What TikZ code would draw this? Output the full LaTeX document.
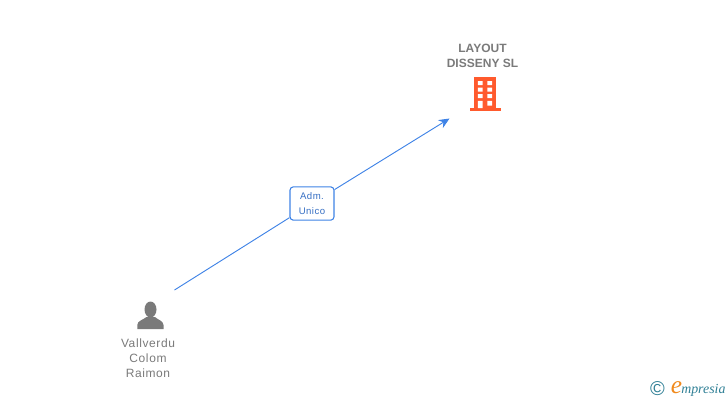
\documentclass[tikz,border=0pt]{standalone}
\usepackage{fontspec}
\setmainfont{Liberation Sans}
\newfontfamily\spacedfont[LetterSpace=5]{Liberation Sans}
\newfontfamily\logofont{Liberation Serif}
\usetikzlibrary{arrows.meta,positioning}
\definecolor{labelgrey}{HTML}{7A7A7A}
\definecolor{linkblue}{HTML}{3F83E6}
\definecolor{towerred}{HTML}{FF5A2D}
\definecolor{logoteal}{HTML}{2F7F95}
\definecolor{logoorange}{HTML}{F08A1D}
\tikzset{
  namelabel/.style={text=labelgrey,font=\spacedfont\fontsize{9}{11.25}\selectfont,align=center,inner sep=0pt},
  firmlabel/.style={text=labelgrey,font=\fontsize{9}{11.5}\selectfont\bfseries,align=center,inner sep=0pt},
  rolebox/.style={draw=linkblue,line width=0.8pt,rounded corners=2.5pt,fill=white,text=linkblue!85!black,
    font=\spacedfont\fontsize{7.2}{11.5}\selectfont,align=center,minimum width=33pt,minimum height=25pt,inner sep=0pt},
  link/.style={draw=linkblue,line width=0.7pt},
}
\begin{document}
\begin{tikzpicture}[x=0.75pt,y=-0.75pt]
\useasboundingbox (0,0) rectangle (728,400);
% company
\node[firmlabel] (layout) at (482.5,56) {LAYOUT\\DISSENY SL};
\fill[towerred] (474,77) rectangle (496,108.5);
\fill[towerred] (469.5,108) rectangle (501,110.7);
\fill[white] (477.8,81) rectangle (482.6,85) (487.4,81) rectangle (492.2,85)
  (477.8,87.7) rectangle (482.6,91.7) (487.4,87.7) rectangle (492.2,91.7)
  (477.8,94.2) rectangle (482.6,98.2) (487.4,94.2) rectangle (492.2,98.2)
  (477.8,100.8) rectangle (482.6,108) (487.4,100.8) rectangle (492.2,105.5);
% person
\fill[labelgrey] (150.5,309.5) ellipse (6 and 8);
\fill[labelgrey] (137.3,329) -- (137.3,325) .. controls (137.5,320.5) and (143,320) .. (146.5,317)
  -- (155,317) .. controls (158,320) and (163.2,320.5) .. (163.5,325) -- (163.5,329) -- cycle;
\node[namelabel] (vallverdu) at (148,358) {Vallverdu\\Colom\\Raimon};
% relation
\coordinate (start) at (174.5,290);
\coordinate (tip) at (449.5,118.5);
\node[rolebox] (adm) at (312,203.5) {Adm.\\Unico};
\draw[link] (start) -- (adm);
\draw[link,-{Stealth[length=8pt,width=7pt]}] (adm) -- (tip);
% logo
\node[text=logoteal,font=\fontsize{15}{15}\selectfont,inner sep=0pt] (copy) at (657.5,389) {\textcopyright};
\node[text=logoteal,font=\logofont\itshape\fontsize{10.4}{11}\selectfont,inner sep=0pt,anchor=base west] (brand) at (681,393.5) {mpresia};
\node[text=logoorange,font=\logofont\itshape\fontsize{19}{19}\selectfont,inner sep=0pt,anchor=base east] (brande) at (682.5,393.5) {e};
\end{tikzpicture}
\end{document}
